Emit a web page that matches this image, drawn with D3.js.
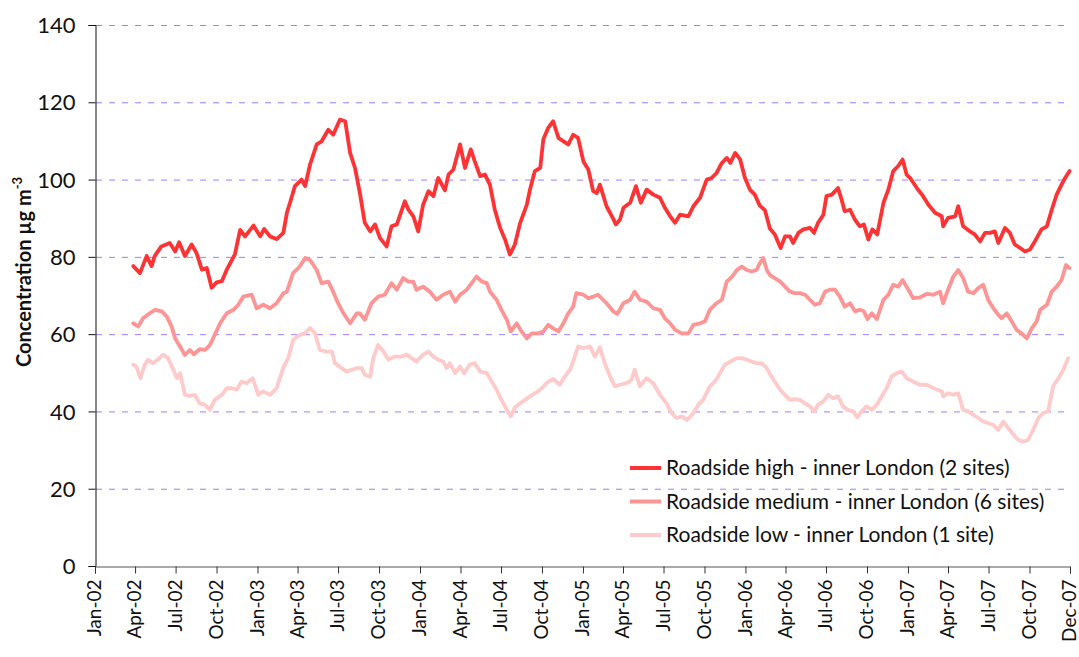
<!DOCTYPE html>
<html>
<head>
<meta charset="utf-8">
<script src="https://cdn.jsdelivr.net/npm/d3@7"></script>
<style>
  html, body { margin: 0; padding: 0; background: #fff; }
  svg text { font-family: Lato, "Open Sans", sans-serif; fill: #111; }
</style>
</head>
<body>
<svg id="chart" width="1079" height="657"></svg>
<script>
// NO2 concentration, rolling mean, inner London roadside sites
const roadsideHigh = [
  ["2002-03-28",77.6],["2002-04-12",75.8],["2002-04-27",80.2],["2002-05-08",77.6],["2002-05-15",80.2],
  ["2002-05-30",82.7],["2002-06-18",83.6],["2002-06-30",81.4],["2002-07-09",83.8],["2002-07-22",80.2],
  ["2002-08-06",83.2],["2002-08-17",81.0],["2002-08-29",76.7],["2002-09-09",77.1],["2002-09-20",72.0],
  ["2002-10-01",73.4],["2002-10-13",73.7],["2002-10-24",76.7],["2002-11-11",80.6],["2002-11-23",87.0],
  ["2002-12-04",85.3],["2002-12-23",88.1],["2003-01-07",85.3],["2003-01-16",87.2],["2003-01-29",85.3],
  ["2003-02-13",84.6],["2003-02-28",86.2],["2003-03-08",91.4],["2003-03-15",94.0],["2003-03-26",98.3],
  ["2003-04-10",100.0],["2003-04-18",98.3],["2003-04-29",103.9],["2003-05-14",109.1],["2003-05-25",109.9],
  ["2003-06-09",112.9],["2003-06-20",111.6],["2003-07-05",115.5],["2003-07-17",115.1],["2003-07-28",106.9],
  ["2003-08-08",103.0],["2003-08-19",96.5],["2003-08-30",88.8],["2003-09-11",86.6],["2003-09-22",88.4],
  ["2003-10-03",84.9],["2003-10-18",82.7],["2003-10-29",87.9],["2003-11-10",88.4],["2003-11-28",94.4],
  ["2003-12-06",92.2],["2003-12-17",90.5],["2003-12-28",86.6],["2004-01-08",93.5],["2004-01-20",97.0],
  ["2004-01-31",95.7],["2004-02-11",100.4],["2004-02-26",97.2],["2004-03-05",101.3],["2004-03-16",102.6],
  ["2004-03-31",109.1],["2004-04-11",103.0],["2004-04-24",107.8],["2004-05-03",104.7],["2004-05-15",100.9],
  ["2004-05-26",101.3],["2004-06-06",98.7],["2004-06-17",92.2],["2004-06-29",87.5],["2004-07-10",84.5],
  ["2004-07-21",80.6],["2004-08-01",83.2],["2004-08-13",88.8],["2004-08-28",93.5],["2004-09-04",97.4],
  ["2004-09-15",102.2],["2004-09-27",103.0],["2004-10-04",110.4],["2004-10-15",113.4],["2004-10-26",115.1],
  ["2004-11-07",110.8],["2004-11-18",109.9],["2004-11-29",109.1],["2004-12-10",111.6],["2004-12-21",110.8],
  ["2005-01-02",104.7],["2005-01-13",102.6],["2005-01-24",97.0],["2005-02-01",96.5],["2005-02-08",98.7],
  ["2005-02-23",93.1],["2005-03-07",90.5],["2005-03-16",88.4],["2005-03-25",89.6],["2005-04-02",92.7],
  ["2005-04-17",94.0],["2005-04-30",98.3],["2005-05-11",94.0],["2005-05-24",97.4],["2005-06-08",96.1],
  ["2005-06-23",95.3],["2005-07-04",92.7],["2005-07-16",90.5],["2005-07-27",88.8],["2005-08-07",90.9],
  ["2005-08-26",90.5],["2005-09-06",93.1],["2005-09-21",95.3],["2005-10-06",100.0],["2005-10-17",100.4],
  ["2005-10-28",101.7],["2005-11-09",104.3],["2005-11-20",105.6],["2005-11-28",104.3],["2005-12-09",106.9],
  ["2005-12-20",105.2],["2005-12-31",100.4],["2006-01-11",97.4],["2006-01-22",96.1],["2006-02-02",93.3],
  ["2006-02-14",92.0],["2006-02-25",87.3],["2006-03-08",85.8],["2006-03-21",82.3],["2006-03-31",85.3],
  ["2006-04-11",85.3],["2006-04-18",83.6],["2006-04-30",86.2],["2006-05-11",87.1],["2006-05-26",87.5],
  ["2006-06-04",86.2],["2006-06-13",88.8],["2006-06-25",90.9],["2006-07-02",95.7],["2006-07-14",96.1],
  ["2006-07-28",97.8],["2006-08-05",94.8],["2006-08-12",91.8],["2006-08-24",92.2],["2006-09-04",89.6],
  ["2006-09-15",87.9],["2006-09-24",88.4],["2006-10-04",84.5],["2006-10-13",87.1],["2006-10-24",85.8],
  ["2006-11-07",94.0],["2006-11-18",97.4],["2006-11-29",102.2],["2006-12-10",103.5],["2006-12-20",105.2],
  ["2006-12-29",101.3],["2007-01-06",100.4],["2007-01-21",97.8],["2007-02-04",95.7],["2007-02-16",93.5],
  ["2007-03-03",91.4],["2007-03-18",90.5],["2007-03-21",87.9],["2007-04-01",90.1],["2007-04-17",90.5],
  ["2007-04-24",93.1],["2007-05-05",87.9],["2007-05-20",86.6],["2007-05-31",85.8],["2007-06-12",84.0],
  ["2007-06-23",86.2],["2007-07-04",86.2],["2007-07-15",86.6],["2007-07-23",83.6],["2007-08-07",87.5],
  ["2007-08-18",86.2],["2007-08-29",83.2],["2007-09-10",82.3],["2007-09-21",81.4],["2007-10-02",81.9],
  ["2007-10-13",84.0],["2007-10-28",87.1],["2007-11-09",87.9],["2007-11-20",92.2],["2007-12-01",96.1],
  ["2007-12-12",98.7],["2007-12-20",100.4],["2007-12-30",102.2]
];

const roadsideMedium = [
  ["2002-03-28",62.8],["2002-04-08",62.0],["2002-04-19",64.1],["2002-05-04",65.4],["2002-05-16",66.3],
  ["2002-05-31",65.9],["2002-06-11",64.6],["2002-06-22",62.0],["2002-06-30",58.9],["2002-07-11",56.8],
  ["2002-07-22",54.6],["2002-08-02",55.9],["2002-08-11",54.8],["2002-08-24",56.1],["2002-09-05",55.9],
  ["2002-09-16",57.2],["2002-09-27",59.8],["2002-10-09",62.8],["2002-10-24",65.4],["2002-11-08",66.3],
  ["2002-11-19",67.6],["2002-11-30",69.7],["2002-12-19",70.2],["2002-12-30",66.7],["2003-01-14",67.6],
  ["2003-01-29",66.7],["2003-02-13",68.0],["2003-02-28",70.6],["2003-03-08",71.0],["2003-03-22",75.8],
  ["2003-04-06",77.5],["2003-04-18",79.7],["2003-04-29",79.2],["2003-05-14",76.6],["2003-05-25",73.2],
  ["2003-06-09",73.6],["2003-06-20",71.0],["2003-07-01",68.0],["2003-07-13",65.4],["2003-07-28",62.8],
  ["2003-08-12",65.4],["2003-08-19",65.4],["2003-08-30",63.7],["2003-09-14",68.0],["2003-09-29",69.7],
  ["2003-10-14",70.2],["2003-10-29",73.2],["2003-11-10",71.5],["2003-11-24",74.5],["2003-12-06",73.6],
  ["2003-12-17",73.6],["2003-12-24",71.5],["2004-01-08",72.3],["2004-01-23",71.0],["2004-02-07",68.9],
  ["2004-02-22",70.2],["2004-03-08",71.0],["2004-03-20",68.4],["2004-03-31",70.2],["2004-04-15",71.5],
  ["2004-04-26",73.2],["2004-05-07",74.9],["2004-05-19",73.6],["2004-05-30",73.2],["2004-06-06",71.0],
  ["2004-06-21",68.9],["2004-07-02",66.3],["2004-07-14",63.7],["2004-07-23",60.7],["2004-08-05",62.8],
  ["2004-08-16",60.7],["2004-08-28",58.9],["2004-09-08",60.2],["2004-09-23",60.2],["2004-10-04",60.7],
  ["2004-10-15",62.4],["2004-10-26",61.5],["2004-11-07",60.7],["2004-11-18",62.8],["2004-11-29",65.4],
  ["2004-12-10",67.1],["2004-12-17",70.6],["2005-01-02",70.2],["2005-01-13",69.3],["2005-01-24",69.7],
  ["2005-02-04",70.2],["2005-02-23",68.0],["2005-03-10",65.9],["2005-03-19",65.2],["2005-04-02",68.0],
  ["2005-04-17",68.9],["2005-04-27",71.0],["2005-05-09",68.9],["2005-05-24",68.4],["2005-06-08",66.7],
  ["2005-06-23",66.3],["2005-07-04",64.1],["2005-07-16",62.8],["2005-07-27",61.1],["2005-08-11",60.2],
  ["2005-08-26",60.2],["2005-09-06",62.4],["2005-09-21",62.8],["2005-10-02",63.3],["2005-10-13",66.3],
  ["2005-10-28",68.0],["2005-11-09",68.9],["2005-11-20",73.6],["2005-12-02",74.9],["2005-12-13",76.6],
  ["2005-12-24",77.5],["2006-01-04",76.6],["2006-01-15",76.2],["2006-01-26",76.6],["2006-02-02",78.3],
  ["2006-02-10",79.7],["2006-02-18",76.6],["2006-02-25",75.3],["2006-03-08",74.5],["2006-03-20",73.6],
  ["2006-03-31",72.3],["2006-04-11",71.0],["2006-04-22",70.6],["2006-05-03",70.6],["2006-05-15",70.2],
  ["2006-05-26",68.9],["2006-06-06",67.6],["2006-06-17",68.0],["2006-06-29",71.0],["2006-07-10",71.5],
  ["2006-07-21",71.5],["2006-08-01",69.7],["2006-08-12",67.1],["2006-08-24",68.0],["2006-09-04",65.9],
  ["2006-09-15",66.3],["2006-09-24",65.9],["2006-10-02",63.9],["2006-10-12",65.4],["2006-10-23",63.9],
  ["2006-11-07",68.9],["2006-11-18",70.2],["2006-11-29",72.8],["2006-12-10",72.3],["2006-12-20",74.0],
  ["2007-01-02",71.5],["2007-01-13",69.3],["2007-01-28",69.5],["2007-02-12",70.4],["2007-02-27",70.2],
  ["2007-03-14",71.0],["2007-03-21",68.0],["2007-04-01",71.5],["2007-04-13",74.9],["2007-04-24",76.6],
  ["2007-05-05",74.5],["2007-05-16",71.0],["2007-05-28",70.6],["2007-06-08",71.9],["2007-06-19",72.8],
  ["2007-06-30",68.9],["2007-07-12",66.7],["2007-07-23",65.0],["2007-07-30",64.1],["2007-08-11",65.4],
  ["2007-08-22",63.3],["2007-09-02",61.1],["2007-09-13",60.2],["2007-09-25",58.9],["2007-10-06",61.5],
  ["2007-10-17",63.3],["2007-10-25",66.3],["2007-11-09",67.6],["2007-11-20",71.0],["2007-12-01",72.3],
  ["2007-12-12",74.0],["2007-12-22",77.9],["2007-12-30",77.1]
];

const roadsideLow = [
  ["2002-03-28",52.1],["2002-04-04",51.6],["2002-04-13",48.6],["2002-04-23",52.1],["2002-04-30",53.4],
  ["2002-05-11",52.5],["2002-05-23",53.5],["2002-06-03",54.7],["2002-06-14",53.8],["2002-06-26",50.8],
  ["2002-07-04",48.6],["2002-07-11",49.9],["2002-07-22",44.3],["2002-08-02",44.0],["2002-08-13",44.3],
  ["2002-08-24",42.1],["2002-09-05",41.7],["2002-09-16",40.4],["2002-09-27",43.0],["2002-10-13",44.3],
  ["2002-10-24",46.0],["2002-11-04",46.0],["2002-11-15",45.6],["2002-11-26",47.7],["2002-12-07",47.3],
  ["2002-12-21",48.6],["2003-01-03",44.3],["2003-01-14",45.2],["2003-01-29",44.3],["2003-02-13",46.0],
  ["2003-02-28",51.4],["2003-03-11",53.8],["2003-03-22",58.5],["2003-04-03",59.6],["2003-04-18",60.3],
  ["2003-04-29",61.6],["2003-05-10",60.3],["2003-05-21",55.9],["2003-06-05",55.5],["2003-06-17",55.5],
  ["2003-06-24",52.5],["2003-07-09",51.2],["2003-07-20",50.3],["2003-08-01",50.8],["2003-08-12",51.2],
  ["2003-08-23",51.2],["2003-08-30",49.5],["2003-09-11",49.0],["2003-09-18",53.8],["2003-09-29",57.2],
  ["2003-10-11",55.5],["2003-10-22",53.4],["2003-11-06",54.2],["2003-11-21",54.2],["2003-12-02",54.7],
  ["2003-12-13",53.8],["2003-12-24",52.9],["2004-01-08",54.7],["2004-01-20",55.5],["2004-01-31",54.2],
  ["2004-02-11",53.4],["2004-02-22",52.9],["2004-03-01",51.2],["2004-03-08",52.5],["2004-03-20",49.9],
  ["2004-03-31",51.6],["2004-04-09",49.9],["2004-04-22",52.1],["2004-05-03",52.5],["2004-05-15",50.3],
  ["2004-05-30",49.9],["2004-06-10",47.7],["2004-06-21",45.6],["2004-07-02",43.0],["2004-07-14",40.4],
  ["2004-07-23",38.7],["2004-08-01",41.0],["2004-08-13",42.1],["2004-08-24",43.0],["2004-09-04",43.9],
  ["2004-09-15",44.7],["2004-09-27",45.6],["2004-10-11",47.3],["2004-10-26",48.4],["2004-11-10",46.9],
  ["2004-11-21",49.0],["2004-12-03",50.8],["2004-12-10",52.9],["2004-12-21",56.8],["2005-01-02",56.4],
  ["2005-01-17",56.8],["2005-01-28",54.2],["2005-02-08",56.6],["2005-02-19",52.5],["2005-03-03",49.0],
  ["2005-03-14",46.5],["2005-03-25",46.9],["2005-04-09",47.3],["2005-04-20",48.2],["2005-04-27",50.8],
  ["2005-05-09",46.5],["2005-05-24",48.6],["2005-06-08",47.3],["2005-06-23",44.3],["2005-07-08",42.1],
  ["2005-07-19",39.6],["2005-07-30",38.3],["2005-08-11",38.7],["2005-08-23",37.8],["2005-09-06",39.6],
  ["2005-09-17",41.7],["2005-09-28",43.0],["2005-10-13",46.5],["2005-10-24",47.7],["2005-11-05",49.9],
  ["2005-11-16",52.1],["2005-11-28",52.9],["2005-12-13",53.8],["2005-12-24",53.8],["2006-01-04",53.4],
  ["2006-01-15",52.9],["2006-01-26",52.5],["2006-02-06",52.5],["2006-02-18",51.2],["2006-02-25",49.7],
  ["2006-03-08",47.7],["2006-03-20",45.6],["2006-03-31",44.3],["2006-04-11",43.0],["2006-04-22",43.2],
  ["2006-05-03",43.0],["2006-05-15",42.1],["2006-05-26",41.3],["2006-06-04",40.0],["2006-06-13",41.7],
  ["2006-06-25",42.6],["2006-07-06",44.3],["2006-07-17",43.4],["2006-07-28",43.9],["2006-08-08",41.3],
  ["2006-08-19",40.4],["2006-08-31",40.0],["2006-09-09",38.5],["2006-09-19",40.0],["2006-09-30",41.3],
  ["2006-10-12",40.4],["2006-10-23",41.7],["2006-11-03",43.9],["2006-11-14",46.0],["2006-11-25",49.0],
  ["2006-12-07",49.9],["2006-12-18",50.3],["2006-12-29",48.6],["2007-01-13",47.7],["2007-01-28",46.9],
  ["2007-02-12",46.9],["2007-02-27",46.0],["2007-03-18",45.2],["2007-03-21",43.9],["2007-04-01",44.7],
  ["2007-04-13",44.3],["2007-04-24",44.7],["2007-05-05",40.4],["2007-05-16",40.0],["2007-05-28",39.1],
  ["2007-06-08",38.3],["2007-06-19",37.4],["2007-06-30",37.0],["2007-07-12",36.5],["2007-07-23",35.2],
  ["2007-08-03",37.4],["2007-08-14",35.7],["2007-08-26",34.0],["2007-09-06",32.6],["2007-09-17",32.2],
  ["2007-09-28",32.6],["2007-10-09",35.2],["2007-10-21",38.3],["2007-11-01",39.6],["2007-11-12",40.0],
  ["2007-11-23",46.5],["2007-12-05",48.6],["2007-12-16",50.8],["2007-12-27",53.8]
];

const seriesNames = [
  "Roadside high - inner London (2 sites)",
  "Roadside medium - inner London (6 sites)",
  "Roadside low - inner London (1 site)"
];
const seriesColors = ["#ff3333", "#ff9494", "#ffcaca"];

const yTicks = [0, 20, 40, 60, 80, 100, 120, 140];
const xTickDates = [
  "2002-01-01","2002-04-01","2002-07-01","2002-10-01",
  "2003-01-01","2003-04-01","2003-07-01","2003-10-01",
  "2004-01-01","2004-04-01","2004-07-01","2004-10-01",
  "2005-01-01","2005-04-01","2005-07-01","2005-10-01",
  "2006-01-01","2006-04-01","2006-07-01","2006-10-01",
  "2007-01-01","2007-04-01","2007-07-01","2007-10-01",
  "2007-12-31"
];

const parse = d3.timeParse("%Y-%m-%d");
const fmt = d3.timeFormat("%b-%y");

const margin = { left: 95, right: 9, top: 25, bottom: 91 };
const W = 1079, H = 657;
const svg = d3.select("#chart");

const x = d3.scaleTime()
  .domain([parse("2002-01-01"), parse("2007-12-31")])
  .range([margin.left, W - margin.right]);
const y = d3.scaleLinear()
  .domain([0, 140])
  .range([H - margin.bottom, margin.top]);

// horizontal dashed gridlines
svg.append("g")
  .selectAll("line")
  .data(yTicks.filter(v => v > 0))
  .join("line")
  .attr("x1", margin.left + 1)
  .attr("x2", W - margin.right)
  .attr("y1", d => y(d) + 0.5)
  .attr("y2", d => y(d) + 0.5)
  .attr("stroke", "#9d7dff")
  .attr("stroke-width", 1)
  .attr("stroke-dasharray", "6,7");

// series lines
const line = d3.line()
  .x(d => x(parse(d[0])))
  .y(d => y(d[1]))
  .curve(d3.curveLinear);

const allSeries = [roadsideLow, roadsideMedium, roadsideHigh];
const allColors = [seriesColors[2], seriesColors[1], seriesColors[0]];
svg.append("g")
  .selectAll("path")
  .data(allSeries)
  .join("path")
  .attr("d", line)
  .attr("fill", "none")
  .attr("stroke", (d, i) => allColors[i])
  .attr("stroke-width", 3.8)
  .attr("stroke-linejoin", "round")
  .attr("stroke-linecap", "round");

// y axis
const yAxis = d3.axisLeft(y).tickValues(yTicks).tickSize(7).tickPadding(13);
const gy = svg.append("g")
  .attr("transform", `translate(${margin.left + 0.5},0)`)
  .call(yAxis);
gy.select(".domain").attr("stroke", "#111");
gy.selectAll(".tick line").attr("stroke", "#111");
gy.selectAll(".tick text")
  .attr("font-size", 22)
  .attr("font-family", "Lato, sans-serif")
  .attr("fill", "#111")
  .attr("dy", "0.35em");

// x axis
const xAxis = d3.axisBottom(x)
  .tickValues(xTickDates.map(parse))
  .tickFormat(fmt)
  .tickSize(7);
const gx = svg.append("g")
  .attr("transform", `translate(0,${H - margin.bottom + 0.5})`)
  .call(xAxis);
gx.select(".domain").attr("stroke", "#555");
gx.selectAll(".tick line").attr("stroke", "#333");
gx.selectAll(".tick text")
  .attr("font-size", 19)
  .attr("font-family", "Lato, sans-serif")
  .attr("fill", "#111")
  .attr("text-anchor", "end")
  .attr("transform", "rotate(-90)")
  .attr("x", -13)
  .attr("y", 0)
  .attr("dy", "0.3em");

// y axis title
const title = svg.append("text")
  .attr("transform", "translate(31,272) rotate(-90)")
  .attr("text-anchor", "middle")
  .attr("font-size", 20)
  .attr("font-weight", "bold");
title.append("tspan").text("Concentration µg m");
title.append("tspan").attr("dy", -9).attr("font-size", 13).text("-3");

// legend
const legend = svg.append("g").attr("transform", "translate(630,468)");
const items = legend.selectAll("g")
  .data(seriesNames)
  .join("g")
  .attr("transform", (d, i) => `translate(0,${i * 33.5})`);
items.append("line")
  .attr("x1", 0).attr("x2", 31)
  .attr("stroke", (d, i) => seriesColors[i])
  .attr("stroke-width", 4);
items.append("text")
  .attr("x", 36)
  .attr("dy", "0.35em")
  .attr("font-size", 21)
  .text(d => d);
</script>
</body>
</html>
